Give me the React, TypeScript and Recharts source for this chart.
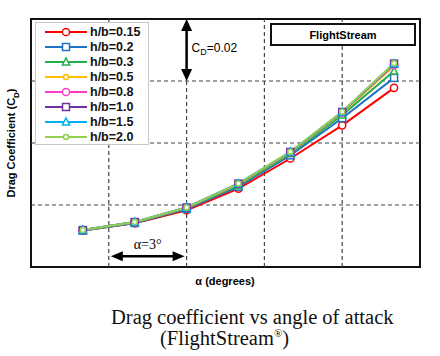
import React from "react";
import {
  LineChart,
  Line,
  XAxis,
  YAxis,
  Legend,
  ReferenceArea,
  ReferenceLine,
} from "recharts";

// angle of attack (deg)
const alpha = [0, 2, 4, 6, 8, 10, 12];
const xTicks = [-2, 1, 4, 7, 10, 13];
const yTicks = [0, 0.02, 0.04, 0.06, 0.08];

const hb015 = [0.0118, 0.0141, 0.0183, 0.0253, 0.035, 0.0457, 0.0578];
const hb02 = [0.0118, 0.0142, 0.0187, 0.0259, 0.036, 0.048, 0.061];
const hb03 = [0.0118, 0.0143, 0.0189, 0.0263, 0.0365, 0.049, 0.0632];
const hb05 = [0.0119, 0.0144, 0.0191, 0.0267, 0.0369, 0.0497, 0.0648];
const hb08 = [0.0119, 0.0144, 0.0191, 0.0268, 0.037, 0.0499, 0.0652];
const hb10 = [0.0119, 0.0145, 0.0192, 0.0269, 0.0371, 0.05, 0.0656];
const hb15 = [0.0119, 0.0145, 0.0192, 0.0269, 0.0371, 0.05, 0.0656];
const hb20 = [0.0119, 0.0145, 0.0192, 0.0269, 0.0372, 0.0501, 0.0657];

const series = [
  { key: "hb015", name: "h/b=0.15", values: hb015, color: "#ff0000", marker: "circle" },
  { key: "hb02", name: "h/b=0.2", values: hb02, color: "#1f72c4", marker: "square" },
  { key: "hb03", name: "h/b=0.3", values: hb03, color: "#22b04c", marker: "triangle" },
  { key: "hb05", name: "h/b=0.5", values: hb05, color: "#ffc000", marker: "small" },
  { key: "hb08", name: "h/b=0.8", values: hb08, color: "#ff3cc8", marker: "circle" },
  { key: "hb10", name: "h/b=1.0", values: hb10, color: "#7030a0", marker: "square" },
  { key: "hb15", name: "h/b=1.5", values: hb15, color: "#00b0f0", marker: "triangle" },
  { key: "hb20", name: "h/b=2.0", values: hb20, color: "#92d050", marker: "small" },
];

const data = alpha.map((a, i) => {
  const row: Record<string, number> = { alpha: a };
  series.forEach((s) => (row[s.key] = s.values[i]));
  return row;
});

const font = "Arial, 'Liberation Sans', sans-serif";
const serif = "'Times New Roman', 'Liberation Serif', serif";

function Marker({ cx, cy, type, color }: { cx: number; cy: number; type: string; color: string }) {
  if (type === "square")
    return <rect x={cx - 3.5} y={cy - 3.5} width={7} height={7} fill="#fff" stroke={color} strokeWidth={1.5} />;
  if (type === "triangle")
    return (
      <polygon
        points={`${cx},${cy - 4} ${cx - 3.6},${cy + 3} ${cx + 3.6},${cy + 3}`}
        fill="#fff"
        stroke={color}
        strokeWidth={1.5}
      />
    );
  if (type === "small") return <circle cx={cx} cy={cy} r={2.5} fill="#fff" stroke={color} strokeWidth={1.5} />;
  return <circle cx={cx} cy={cy} r={3.6} fill="#fff" stroke={color} strokeWidth={1.5} />;
}

function LegendBox() {
  return (
    <div
      style={{
        width: 114,
        height: 123,
        border: "1px solid #c8c8c8",
        background: "#fff",
        boxSizing: "border-box",
        paddingTop: 1,
      }}
    >
      {series.map((s) => (
        <div key={s.key} style={{ display: "flex", alignItems: "center", height: 15.1 }}>
          <svg width={54} height={12}>
            <line x1={9} y1={6} x2={51} y2={6} stroke={s.color} strokeWidth={2} />
            <Marker cx={30} cy={6} type={s.marker} color={s.color} />
          </svg>
          <span style={{ fontFamily: font, fontWeight: "bold", fontSize: 12.5, color: "#111" }}>{s.name}</span>
        </div>
      ))}
    </div>
  );
}

function VArrow(props: any) {
  const { x1, y1, y2 } = props;
  return (
    <g>
      <line x1={x1} y1={y1 + 10} x2={x1} y2={y2 - 10} stroke="#000" strokeWidth={2.5} />
      <polygon points={`${x1},${y1} ${x1 - 5.5},${y1 + 12} ${x1 + 5.5},${y1 + 12}`} fill="#000" />
      <polygon points={`${x1},${y2} ${x1 - 5.5},${y2 - 12} ${x1 + 5.5},${y2 - 12}`} fill="#000" />
      <text x={x1 + 5} y={y1 + 33} fontFamily={font} fontSize={12} fill="#000">
        C<tspan fontSize={9} dy={3}>D</tspan>
        <tspan dy={-3}>=0.02</tspan>
      </text>
    </g>
  );
}

function HArrow(props: any) {
  const { x1, y1, x2 } = props;
  return (
    <g>
      <line x1={x1 + 12} y1={y1} x2={x2 - 12} y2={y1} stroke="#000" strokeWidth={2.5} />
      <polygon points={`${x1 + 2},${y1} ${x1 + 14},${y1 - 5} ${x1 + 14},${y1 + 5}`} fill="#000" />
      <polygon points={`${x2 - 2},${y1} ${x2 - 14},${y1 - 5} ${x2 - 14},${y1 + 5}`} fill="#000" />
      <text x={(x1 + x2) / 2} y={y1 - 7} textAnchor="middle" fontFamily={serif} fontSize={14} fill="#000">
        α=3°
      </text>
    </g>
  );
}

export default function App() {
  return (
    <div style={{ position: "absolute", left: 0, top: 0, width: 440, height: 356, background: "#fff" }}>
      <LineChart width={440} height={356} data={data} margin={{ top: 19, right: 20, bottom: 89, left: 31 }}>
        <XAxis
          dataKey="alpha"
          type="number"
          domain={[-2, 13]}
          ticks={xTicks}
          height={0}
          tick={false}
          tickLine={false}
          axisLine={false}
        />
        <YAxis domain={[0, 0.08]} ticks={yTicks} width={0} tick={false} tickLine={false} axisLine={false} />
        {xTicks.slice(1, -1).map((t) => (
          <ReferenceLine key={`vx${t}`} x={t} stroke="#444" strokeDasharray="4 3" strokeWidth={1.2} />
        ))}
        {yTicks.slice(1, -1).map((t) => (
          <ReferenceLine key={`hy${t}`} y={t} stroke="#444" strokeDasharray="4 3" strokeWidth={1.2} />
        ))}
        <ReferenceLine segment={[{ x: 4, y: 0.08 }, { x: 4, y: 0.06 }]} shape={VArrow} />
        <ReferenceLine segment={[{ x: 1, y: 0.0035 }, { x: 4, y: 0.0035 }]} shape={HArrow} />
        {series.map((s) => (
          <Line
            key={s.key}
            dataKey={s.key}
            name={s.name}
            stroke={s.color}
            strokeWidth={2}
            isAnimationActive={false}
            dot={(p: any) => <Marker key={`${s.key}-${p.index}`} cx={p.cx} cy={p.cy} type={s.marker} color={s.color} />}
          />
        ))}
        <ReferenceArea x1={-2} x2={13} y1={0} y2={0.08} fill="none" stroke="#111" strokeWidth={2} ifOverflow="visible" />
        <Legend
          layout="horizontal"
          verticalAlign="middle"
          align="center"
          wrapperStyle={{ left: 35, top: 22, width: 114 }}
          content={() => <LegendBox />}
        />
      </LineChart>
      <div
        style={{
          position: "absolute",
          left: 270,
          top: 23,
          width: 146,
          height: 23,
          border: "2px solid #111",
          boxSizing: "border-box",
          background: "#fff",
          fontFamily: font,
          fontWeight: "bold",
          fontSize: 11,
          display: "flex",
          alignItems: "center",
          justifyContent: "center",
        }}
      >
        FlightStream
      </div>
      <div
        style={{
          position: "absolute",
          left: 13,
          top: 143,
          transform: "translate(-50%, -50%) rotate(-90deg)",
          whiteSpace: "nowrap",
          fontFamily: font,
          fontWeight: "bold",
          fontSize: 11,
        }}
      >
        Drag Coefficient (C<sub style={{ fontSize: 8 }}>D</sub>)
      </div>
      <div
        style={{
          position: "absolute",
          left: 225,
          top: 281,
          transform: "translate(-50%, -50%)",
          whiteSpace: "nowrap",
          fontFamily: font,
          fontWeight: "bold",
          fontSize: 11,
        }}
      >
        α (degrees)
      </div>
      <div
        style={{
          position: "absolute",
          left: 111,
          top: 307,
          fontFamily: serif,
          fontSize: 20.5,
          lineHeight: "21px",
          whiteSpace: "nowrap",
          color: "#111",
        }}
      >
        <div>Drag coefficient vs angle of attack</div>
        <div style={{ marginLeft: 49 }}>
          (FlightStream<sup style={{ fontSize: 11, lineHeight: 0, verticalAlign: "8px" }}>®</sup>)
        </div>
      </div>
    </div>
  );
}
